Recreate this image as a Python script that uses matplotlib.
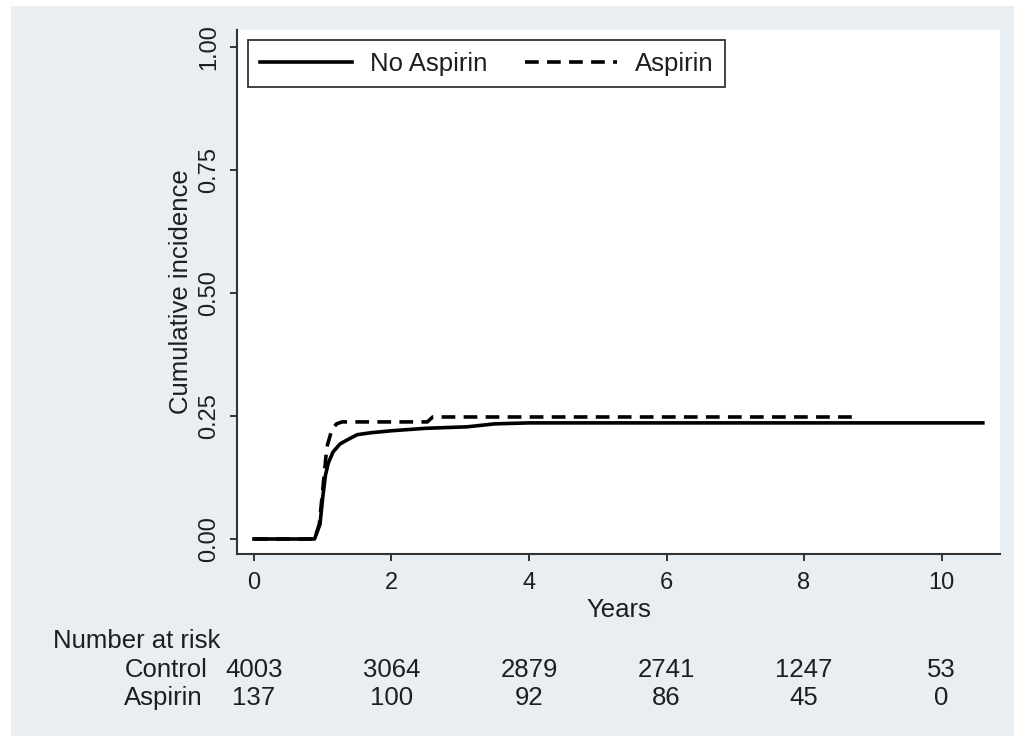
import matplotlib.pyplot as plt
import matplotlib.patches as mpatches
import matplotlib.transforms as mtransforms

plt.rcParams['font.family'] = ['Liberation Sans', 'DejaVu Sans']

# cumulative incidence curves (years, value)
t_noasp = [0, 0.88, 0.96, 1.0, 1.04, 1.08, 1.15, 1.25, 1.35, 1.5, 1.7, 2.0, 2.5, 3.1, 3.5, 4.0, 6.0, 8.0, 10.6]
v_noasp = [0, 0, 0.03, 0.085, 0.13, 0.154, 0.177, 0.193, 0.201, 0.212, 0.216, 0.220, 0.225, 0.228, 0.234, 0.236, 0.236, 0.236, 0.236]
t_asp = [0, 0.88, 0.95, 1.0, 1.06, 1.13, 1.2, 1.28, 2.52, 2.6, 8.75]
v_asp = [0, 0, 0.03, 0.10, 0.187, 0.221, 0.234, 0.238, 0.238, 0.248, 0.248]

# number at risk table
risk_times = [0, 2, 4, 6, 8, 10]
risk_control = [4003, 3064, 2879, 2741, 1247, 53]
risk_aspirin = [137, 100, 92, 86, 45, 0]

yticks = [0, 0.25, 0.5, 0.75, 1.0]
xticks = [0, 2, 4, 6, 8, 10]

bg = '#e8eef1'
ink = '#1e1e1e'

fig = plt.figure(figsize=(10.14, 7.41), dpi=100, facecolor='white')
W, H = 1014, 741
fig.patches.append(mpatches.Rectangle((11 / W, 5 / H), 1 - 11 / W, (736 - 6) / H,
                                      transform=fig.transFigure, facecolor=bg,
                                      edgecolor='none', zorder=-10))

ax = fig.add_axes([237 / W, 1 - 554 / H, (1000 - 237) / W, (554 - 30) / H])
ax.set_facecolor('white')

ax.plot(t_noasp, v_noasp, color='black', lw=2.6, solid_joinstyle='round', label='No Aspirin')
ax.plot(t_asp, v_asp, color='black', lw=2.6, dashes=(3.8, 2.3), label='Aspirin')

ax.set_xlim(-0.247, 10.85)
ax.set_ylim(-0.0305, 1.0346)
ax.set_xticks(xticks)
ax.set_yticks(yticks)
ax.set_yticklabels(['%.2f' % y for y in yticks], rotation=90, va='center')

for s in ['top', 'right']:
    ax.spines[s].set_visible(False)
for s in ['left', 'bottom']:
    ax.spines[s].set_color('#333333')
    ax.spines[s].set_linewidth(1.5)
ax.tick_params(direction='out', length=5, width=1.4, color='#333333',
               labelsize=17, labelcolor=ink)
ax.tick_params(axis='y', pad=7)
ax.tick_params(axis='x', pad=8)

ax.set_ylabel('Cumulative incidence', fontsize=18.5, color=ink, labelpad=4)
ax.set_xlabel('Years', fontsize=18.5, color=ink, labelpad=3)

leg = ax.legend(loc='upper left', bbox_to_anchor=(0.0144, 0.981), ncol=2,
                fontsize=18.5, handlelength=3.6, handletextpad=0.7, columnspacing=1.45,
                fancybox=False, framealpha=1, borderpad=0.45, borderaxespad=0)
leg.get_frame().set_edgecolor('#333333')
leg.get_frame().set_linewidth(1.3)
for t in leg.get_texts():
    t.set_color(ink)

# number at risk
trans = mtransforms.blended_transform_factory(ax.transData, fig.transFigure)
fig.text(53 / W, 1 - 641 / H, 'Number at risk', fontsize=18.5, color=ink, va='center', ha='left')
fig.text(208 / W, 1 - 670 / H, 'Control', fontsize=18.5, color=ink, va='center', ha='right')
fig.text(203 / W, 1 - 698 / H, 'Aspirin', fontsize=18.5, color=ink, va='center', ha='right')
for x, c, a in zip(risk_times, risk_control, risk_aspirin):
    ax.text(x, 1 - 670 / H, str(c), transform=trans, fontsize=18.5, color=ink,
            va='center', ha='center', clip_on=False)
    ax.text(x, 1 - 698 / H, str(a), transform=trans, fontsize=18.5, color=ink,
            va='center', ha='center', clip_on=False)

fig.savefig('out.png', dpi=100, facecolor=fig.get_facecolor())
